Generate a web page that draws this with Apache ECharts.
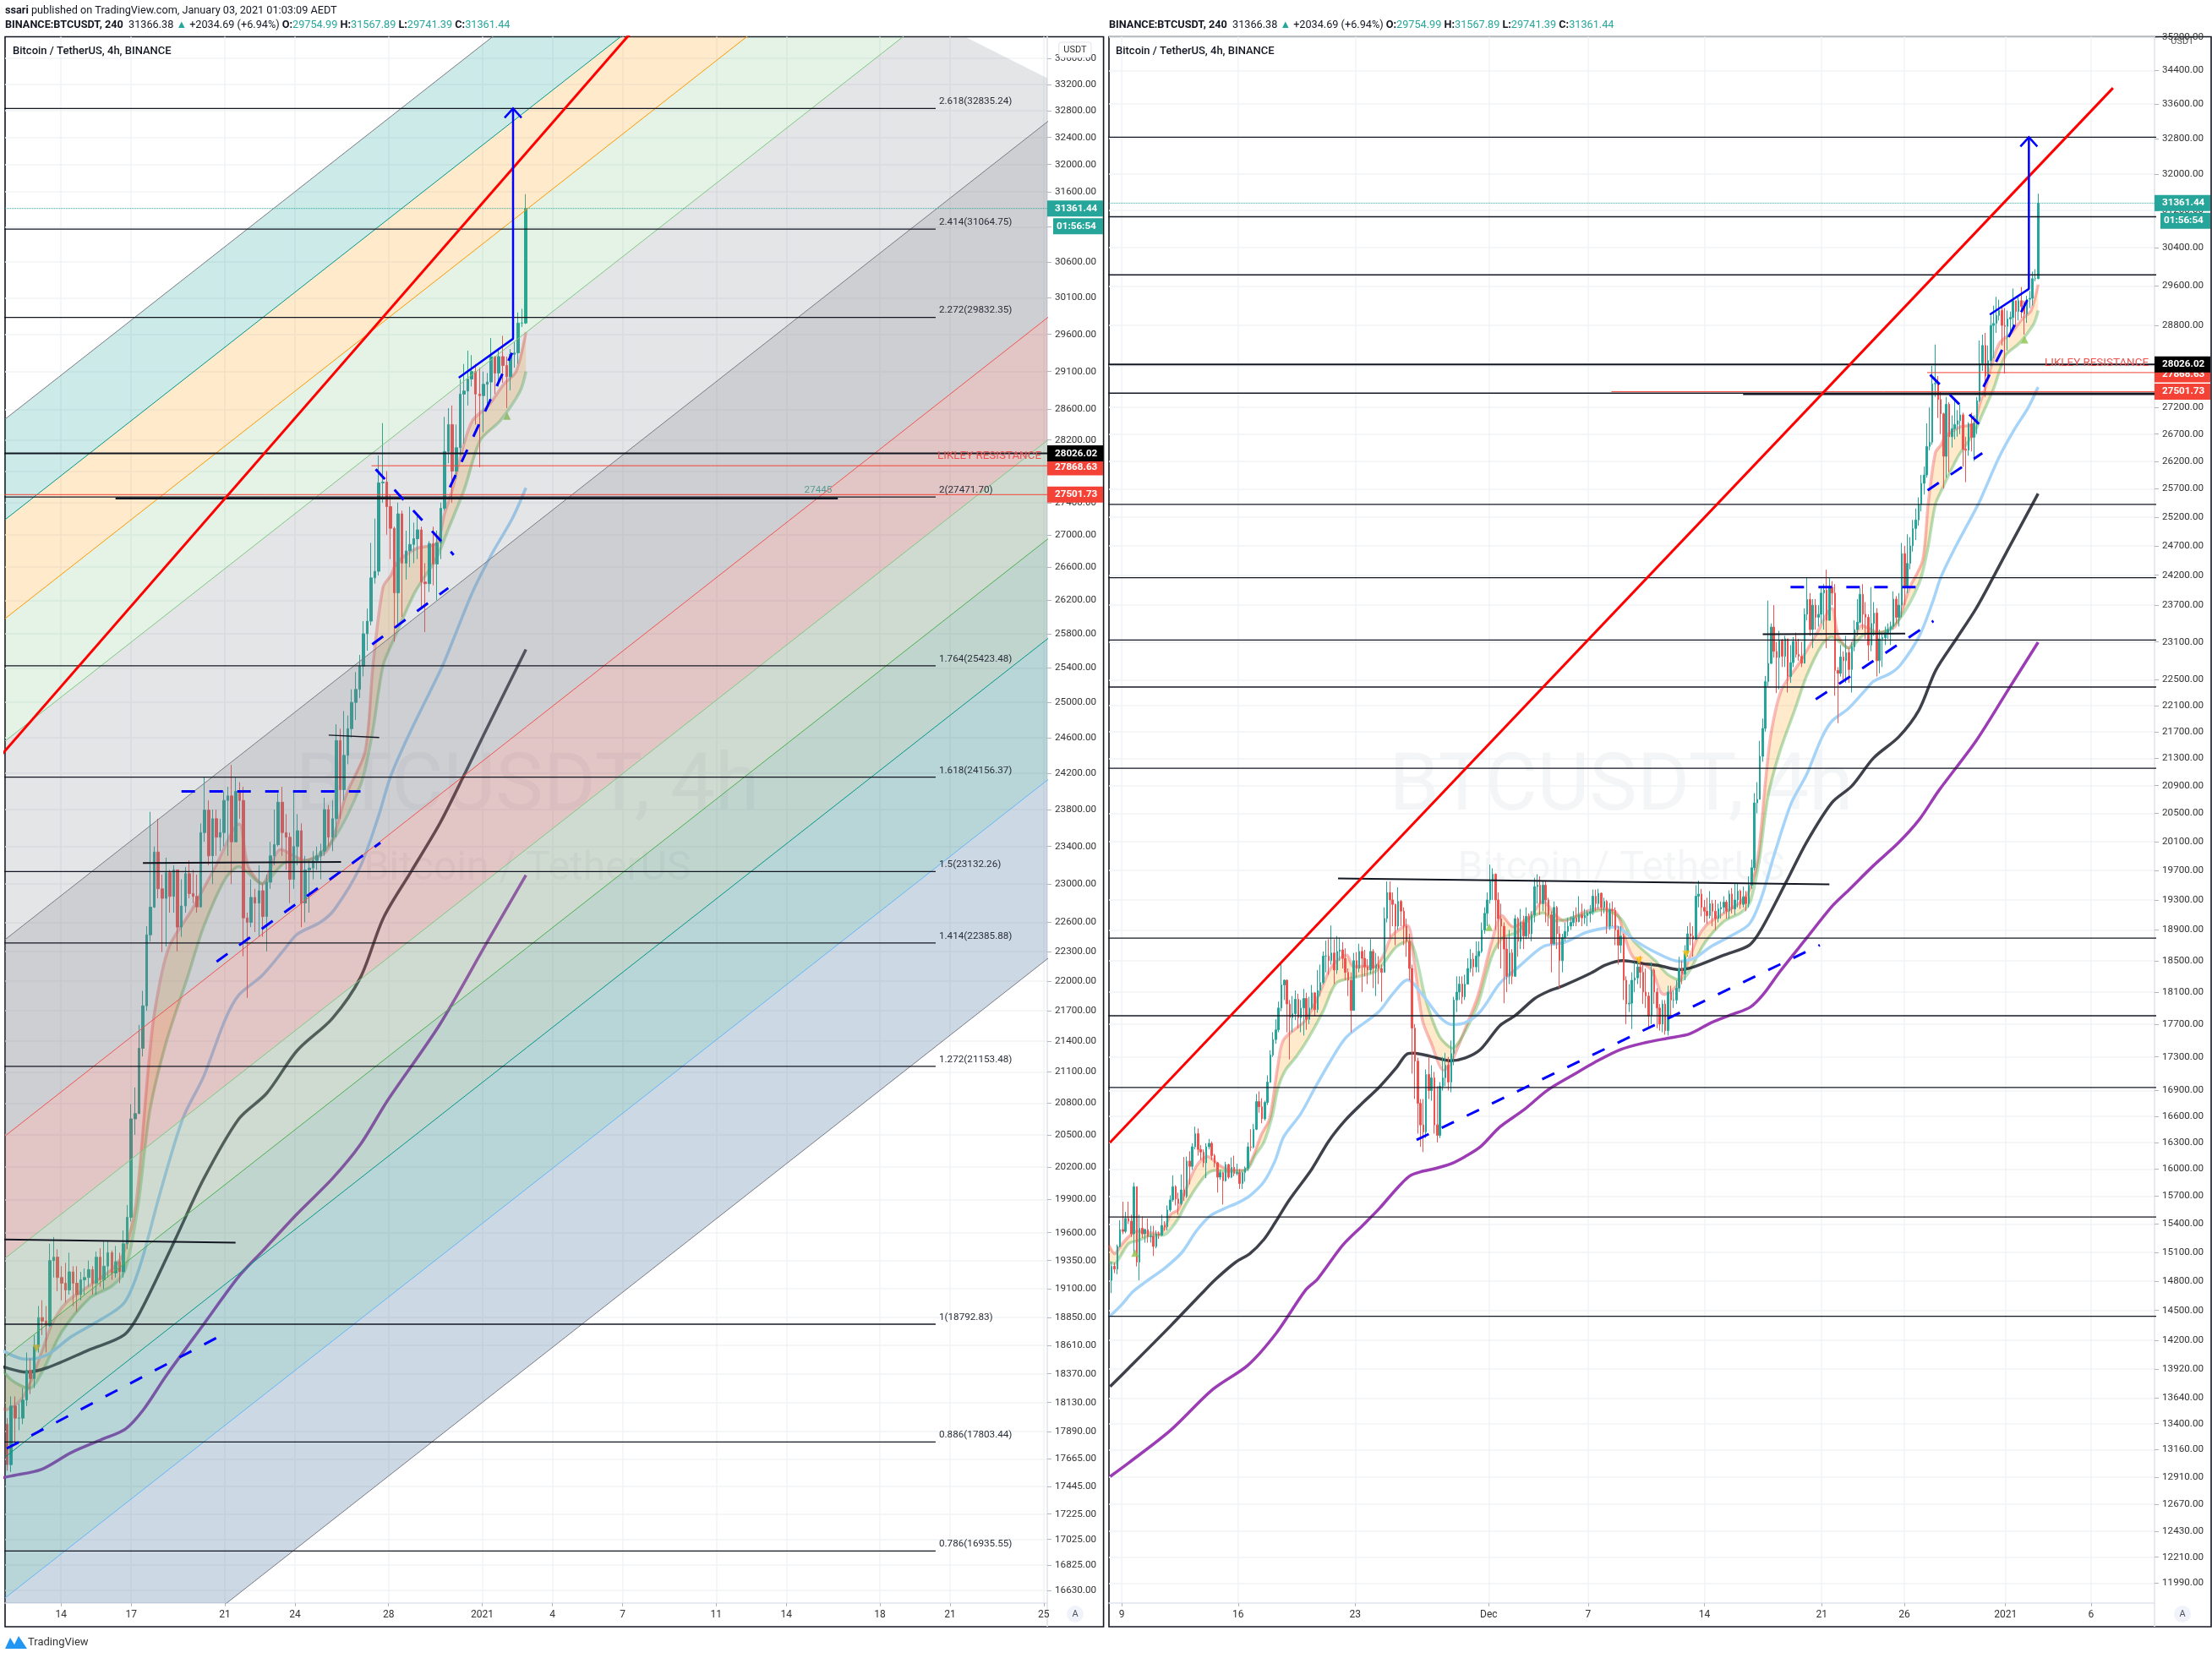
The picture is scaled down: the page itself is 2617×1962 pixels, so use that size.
<!DOCTYPE html>
<html>
<head>
    <meta charset="utf-8">
    <title>BTCUSDT 4h</title>
    <script src="https://cdn.jsdelivr.net/npm/echarts@6/dist/echarts.min.js"></script>
    <style>
        html, body { margin: 0; padding: 0; background: #fff; }
        #main { width: 2617px; height: 1962px; }
    </style>
</head>
<body>
    <div id="main"></div>
    <script type="text/javascript">
        // 4h bars, open of a bar is the close of the one before
        var firstOpen = 14806;
        var closes = [
            14952,14923,15160,15340,15320,15459,15430,15294,15805,14996,
            15354,15294,15340,15264,15270,15160,15294,15280,15384,15370,
            15550,15660,15805,15670,15620,15770,15700,16090,16030,16250,
            16400,16220,16190,16070,16250,16290,16150,16070,15910,15960,
            15870,16050,15910,16020,15950,15960,15840,15960,16010,16250,
            16245,16450,16770,16710,16570,16760,17000,17322,17511,17630,
            17900,18190,18250,17950,17780,17830,18010,17780,17900,18020,
            17760,17900,18090,17880,18120,18220,18560,18560,18500,18600,
            18380,18620,18640,18530,18350,18250,17870,18500,18400,18620,
            18530,18420,18380,18620,18400,18450,18400,18350,19052,19400,
            19300,19240,18950,19280,19150,18950,18750,18400,17650,17250,
            16750,16500,16420,17090,16900,17050,16500,16380,16950,17050,
            17200,17000,17340,18000,18100,18200,18040,18200,18400,18520,
            18420,18560,18620,18900,19120,19300,19550,19650,19300,19050,
            18950,18650,18300,18600,18300,19050,18750,19000,18820,19080,
            18850,19100,19480,19500,19250,19500,19300,19100,18720,19200,
            18850,18500,18800,18880,18950,19000,19060,19010,19100,19060,
            19090,19120,19140,19350,19250,19390,19200,19280,18950,19170,
            19160,18900,18700,18820,18250,17950,17960,18250,18280,18420,
            18350,18100,18050,17800,18380,18100,17900,17700,17950,17620,
            18100,18000,18000,18150,18400,18330,18600,18850,18820,18780,
            19350,19380,19200,19150,19090,19250,19150,19050,19180,19200,
            19270,19150,19380,19180,19300,19420,19240,19340,19250,19500,
            19738,20650,20700,21330,21750,22470,22757,23341,22950,22850,
            23120,22870,23150,22550,22770,23110,22900,22870,22760,23550,
            23794,23300,23700,23500,23550,23900,23950,23450,24000,23900,
            22646,22600,22860,22800,22930,22660,23020,23300,23420,23880,
            23550,23500,23050,23400,23570,22800,23150,23170,23250,23300,
            23350,23800,23500,23700,24566,24018,24400,24700,25000,25150,
            25420,25800,25950,26470,26550,27650,27660,27350,27080,26290,
            27260,26650,26800,26880,26950,27060,26420,26400,26890,26640,
            26900,27330,28050,28400,27800,28100,28800,28840,29000,29100,
            28800,28780,28930,28960,29300,29080,29300,29180,29030,29330,
            29350,29754,29754.99,31361.44
        ];
        var highs = [
            15000,14990,15180,15440,15640,15530,15640,15500,15850,15805,
            15500,15480,15350,15459,15380,15380,15330,15320,15500,15430,
            15600,15710,15930,15820,15740,15940,16135,16140,16200,16290,
            16480,16460,16270,16220,16290,16340,16310,16170,16080,15990,
            15970,16080,16060,16130,16150,16060,16000,15970,16030,16300,
            16450,16510,16860,16890,16810,16780,17080,17380,17600,17760,
            17980,18464,18260,18260,18000,18050,18120,18080,18000,18140,
            18090,18040,18190,18100,18380,18450,18620,18760,18780,18960,
            18780,18820,18800,18740,18660,18400,18350,18600,18610,18720,
            18680,18640,18520,18780,18650,18600,18560,18450,19200,19550,
            19550,19400,19250,19470,19300,19200,19050,18850,18450,17700,
            17290,16800,16800,17150,17300,17200,17120,16950,17000,17300,
            17350,17300,17500,18040,18300,18300,18300,18320,18530,18650,
            18600,18750,18750,19000,19200,19400,19780,19730,19660,19400,
            19250,19000,18800,18900,18650,19100,19070,19180,19090,19200,
            19120,19150,19600,19650,19620,19560,19550,19330,19150,19280,
            19220,18950,18850,19000,19060,19080,19150,19200,19350,19250,
            19180,19160,19230,19440,19440,19450,19400,19330,19300,19260,
            19280,19200,18950,18950,18850,18300,18200,18350,18480,18530,
            18560,18450,18400,18100,18480,18400,18150,17950,18000,18000,
            18180,18180,18120,18250,18550,18500,18700,18950,19000,18950,
            19500,19560,19450,19300,19330,19420,19300,19300,19250,19280,
            19350,19300,19430,19460,19520,19530,19440,19480,19420,19620,
            19850,20790,20950,21561,21900,22560,23775,23400,23700,23100,
            23280,23150,23200,23150,23050,23180,23250,23150,23100,23650,
            24160,23900,23800,23800,23700,24000,24050,24293,24150,24100,
            24050,22700,23050,22950,23200,23000,23100,23450,23800,23980,
            24050,23750,23550,24000,23750,23650,23300,23250,23350,23400,
            23430,23930,23850,23900,24750,24700,24900,24850,25150,25350,
            25550,25950,26100,26900,27200,28000,28419,27800,27500,27100,
            27400,27300,27050,27350,27150,27260,27100,26650,26920,27100,
            27050,27400,28500,28615,28650,28400,29000,29200,29380,29320,
            29200,29150,29100,29080,29550,29300,29400,29580,29300,29400,
            29500,29900,29950,31567.89
        ];
        var lows = [
            14675,14880,14870,15150,15290,15300,15400,15260,15084,14950,
            14806,15250,15200,15200,15200,15060,15140,15240,15270,15330,
            15330,15530,15640,15600,15500,15600,15650,15680,15830,15990,
            16220,16150,16100,16020,15900,16220,16100,16020,15740,15880,
            15610,15860,15890,15900,15920,15930,15780,15780,15860,15980,
            16200,16230,16440,16640,16520,16550,16730,16990,17300,17460,
            17600,17860,18000,17600,17270,17600,17750,17650,17600,17560,
            17630,17700,17880,17800,17840,18050,18200,18350,18320,18450,
            18200,18330,18500,18400,18250,18050,17600,17870,18280,18350,
            18100,18300,18200,18330,18150,18050,18200,17980,18350,19000,
            18800,18950,18700,18900,18950,18700,18550,18250,17100,16800,
            16400,16250,16190,16350,16800,16780,16400,16300,16350,16900,
            16950,16900,16880,17200,17850,18000,17950,18000,18200,18350,
            18300,18350,18350,18600,18850,18950,19250,19300,18900,18650,
            18400,17960,18100,18200,18200,18320,18550,18650,18650,18780,
            18800,18750,19000,19250,19100,19150,19000,18950,18350,18700,
            18650,18150,18350,18750,18820,18900,18950,18950,19000,18950,
            18980,18950,19000,19100,19150,19180,19080,19120,18850,18900,
            18950,18700,18450,18600,18000,17700,17850,17640,18100,18200,
            18150,17950,17900,17650,17700,17950,17650,17620,17600,17570,
            17560,17800,17900,17950,18100,18200,18250,18550,18700,18550,
            18770,19200,19080,19000,18980,19050,18950,18900,19000,19050,
            19120,19050,19050,19120,19100,19200,19180,19200,19150,19200,
            19450,19700,20500,20700,21250,21700,22400,22750,22850,22293,
            22350,22700,22700,22300,22450,22700,22850,22800,22700,22800,
            23450,23200,23000,23300,23350,23400,23300,23000,23500,23700,
            22250,21830,22550,22500,22450,22450,22300,22950,23200,23400,
            23300,23150,22800,22950,23200,22550,22600,22700,23050,23150,
            23050,23300,23400,23350,23500,23700,23900,24300,24600,24800,
            25050,25300,25600,25900,26400,26500,27400,27000,26700,25707,
            25900,26000,26450,26600,26650,26700,26100,25820,26300,26380,
            26200,26700,27300,27900,27400,27700,28000,28150,28650,28900,
            28400,27850,28300,28600,28700,28800,28900,28950,28615,28850,
            29150,29200,29700,29741.39
        ];

        // ribbon and moving averages, [time, price]
        var ribbonFast = [[8.63,15173],[8.97,15084],[9.3,15160],[9.8,15264],[10.3,15324],[10.98,15309],[11.65,15294],[12.31,15504],[12.73,15550],[13.15,15750],[13.82,16031],[14.49,16142],[15.16,16047],[15.66,16000],[16.67,15985],[17.17,16126],[17.67,16380],[18.18,16574],[18.68,17203],[19.02,17511],[20.34,17754],[21.11,18069],[21.88,18428],[22.77,18573],[23.16,18428],[24.44,18428],[24.95,18573],[25.47,18830],[26.36,18960],[26.75,18537],[27.26,17754],[27.77,17477],[28.54,17138],[29.06,17272],[29.82,17649],[30.59,18069],[31.36,18719],[32,19090],[32.65,18941],[33.67,19090],[34.44,19279],[35.21,19090],[35.72,19017],[36.75,19128],[37.77,19185],[38.8,19128],[39.31,18793],[39.82,18537],[40.85,18391],[41.62,18069],[42.39,18176],[43.21,18573],[43.61,18793],[44.21,18978],[45.21,19128],[46.2,19278],[46.7,19431],[47.2,19855],[47.7,21058],[48,21689],[48.6,22335],[49.6,22734],[50.6,23185],[51.6,23644],[52,23185],[52.6,23003],[53.4,23367],[54.4,23254],[55.4,23367],[56.2,23971],[57,24447],[57.33,25420],[57.76,26354],[58.1,26502],[58.35,26653],[59.2,26831],[60.05,26893],[60.39,27260],[60.73,27570],[61.15,28071],[61.58,28451],[62.26,28645],[62.94,28936],[63.45,29100],[63.87,29631]];
        var ribbonSlow = [[8.63,14996],[8.97,14981],[9.3,15055],[9.8,15190],[10.47,15229],[11.14,15279],[11.81,15279],[12.65,15429],[13.15,15596],[13.82,15797],[14.49,15953],[14.99,15985],[15.83,15970],[16.84,15995],[17.34,16158],[17.84,16300],[18.34,16606],[18.68,16933],[19.1,17135],[19.77,17305],[20.44,17511],[21.36,17859],[22.13,18212],[23.16,18283],[24.44,18355],[24.95,18464],[25.72,18682],[26.44,18756],[27.52,17963],[28.29,17545],[29.06,17408],[29.82,17615],[30.59,17963],[31.36,18537],[32,18793],[32.9,18867],[33.67,19052],[34.44,19128],[35.21,19017],[35.98,19052],[37,19110],[38.03,19165],[39.06,19052],[39.82,18756],[41.1,18500],[41.87,18320],[42.64,18249],[43.21,18391],[44.01,18720],[45.21,19017],[46.2,19128],[46.76,19278],[47.3,19855],[47.8,20730],[48.5,21392],[49.4,22031],[50.1,22556],[51,23048],[51.6,23185],[52.6,23003],[53.6,23231],[54.6,23254],[55.6,23459],[56.8,24067],[57.3,24638],[57.76,25420],[58.18,25707],[59.12,26293],[60.05,26712],[60.56,27075],[61.24,27570],[61.92,28197],[62.77,28451],[63.62,28838],[63.87,29100]];
        var blueAverage = [[8.7,14443],[9.4,14560],[10.05,14690],[10.81,14791],[11.98,14938],[12.98,15100],[13.82,15324],[14.66,15489],[15.5,15566],[16.34,15633],[17,15705],[17.84,15859],[18.51,16095],[19.02,16364],[20.02,16625],[20.86,16925],[21.86,17272],[22.77,17545],[24.7,17859],[25.47,18069],[26.39,18256],[27.26,18069],[28.29,17789],[29.06,17695],[29.82,17718],[30.72,17859],[31.88,18212],[33.03,18428],[34.44,18682],[35.72,18738],[37,18867],[38.03,18923],[38.8,18941],[39.82,18774],[41.1,18610],[42.52,18492],[43.41,18530],[44.41,18682],[45.51,18811],[46.7,18978],[47.4,19317],[48.2,19933],[49.2,20650],[50.1,21058],[51,21604],[51.6,21858],[52.59,22053],[53.59,22335],[54.09,22476],[55.09,22601],[55.69,22734],[56.79,23185],[57.58,23737],[58.08,24160],[58.88,24638],[60.3,25420],[60.73,25707],[61.58,26293],[62.43,26773],[63.28,27197],[63.87,27588]];
        var blackAverage = [[8.7,13751],[9.8,13928],[12.3,14345],[14.16,14675],[14.99,14820],[16.17,14996],[17,15084],[17.84,15234],[18.51,15414],[19.35,15659],[20.69,16000],[21.7,16316],[22.7,16558],[23.71,16755],[24.71,16942],[25.72,17171],[26.39,17340],[26.75,17346],[27.77,17306],[28.93,17254],[29.82,17288],[30.72,17391],[31.88,17684],[32.77,17804],[33.93,18017],[34.7,18105],[35.59,18176],[37.26,18338],[38.16,18445],[39.18,18500],[40.34,18464],[41.36,18436],[42.52,18384],[43.41,18421],[45.2,18573],[46.7,18701],[47.4,18904],[48.9,19546],[50.1,20090],[51.6,20650],[52.79,20894],[54.09,21307],[55.59,21623],[56.79,22031],[57.78,22646],[58.98,23139],[60.18,23644],[61.28,24207],[62.08,24638],[63.87,25615]];
        var purpleAverage = [[8.7,12915],[9.8,13038],[12.3,13339],[14.8,13723],[16.9,13958],[18.6,14277],[20.3,14702],[21.03,14820],[22.53,15174],[23.72,15385],[24.7,15566],[25.72,15780],[26.49,15921],[27.13,15968],[28.03,16006],[28.93,16056],[29.82,16142],[30.72,16252],[31.88,16478],[33.29,16673],[34.7,16903],[36.24,17087],[37.52,17237],[39.06,17391],[40.59,17477],[41.87,17528],[43.16,17581],[44.44,17718],[45.72,17823],[46.75,17910],[47.52,18069],[48.5,18355],[50.1,18793],[51.6,19210],[52.6,19431],[54.09,19769],[55.59,20090],[56.79,20407],[57.98,20833],[60.18,21561],[62.18,22381],[63.87,23095]];

        // horizontal levels
        var fibRatios = ['2.618','2.414','2.272','2','1.764','1.618','1.5','1.414','1.272','1','0.886','0.786'];
        var fibPrices = [32835.24,31064.75,29832.35,27471.70,25423.48,24156.37,23132.26,22385.88,21153.48,18792.83,17803.44,16935.55];
        var lowerLevels = [15474,14441];
        var levelStart = 0, levelEnd = 81.38;
        var lastPrice = 31361.44, blackLevel = 28026.02, resistance = 27868.63, support = 27501.73;

        // fib channel, edges run from channelLeft to channelRight
        var channelLeft = [[41.61,28471],[41.61,27187],[41.61,25980],[41.61,24560],[41.61,22421],[41.61,20489],[41.61,19370],[41.61,18510],[41.61,17681],[41.61,16574],[41.61,15266]];
        var channelRight = [[87.6,41944],[87.6,40053],[87.6,38276],[81.02,34230],[87.6,33034],[87.6,30192],[87.6,28540],[87.6,27273],[87.6,26054],[87.6,24420],[87.6,22496]];
        var channelEdgeColors = ['#787b86','#009688','#ff9800','#81c784','#787b86','#ef5350','#81c784','#4caf50','#009688','#64b5f6','#787b86'];
        var channelFills = ['rgba(0,150,136,0.2)','rgba(255,152,0,0.2)','rgba(76,175,80,0.15)','rgba(120,123,134,0.2)','rgba(120,123,134,0.36)','rgba(172,89,89,0.35)','rgba(118,152,124,0.35)','rgba(78,135,118,0.35)','rgba(52,135,141,0.35)','rgba(109,143,175,0.35)'];

        // hand drawn lines
        var redTrend = [[8.68,16297],[68.32,33980]];
        var blueDashed = [
            [[26.92,16328],[50.89,18701]],
            [[49.15,24000],[56.8,24000]],
            [[50.65,22195],[57.65,23440]],
            [[57.3,25675],[60.55,26347]],
            [[57.45,27825],[60.78,26751]],
            [[60.62,27594],[63.28,29350]]
        ];
        var blueArrow = [[61,29018],[63.32,29541],[63.32,32835]];
        var blackTrends = [
            [[22.25,19590],[51.46,19510]],
            [[47.5,23224],[55.97,23235]]
        ];
        var flatBlack = [[46.33,27455],[77.2,27455]];
        var shortBlack = [[55.44,24627],[57.6,24600]];
        var upSignals = [[63.06,28513],[10.18,15091],[31.23,18937]];
        var downSignals = [[40.14,18500],[42.95,18584]];

        // axes
        var leftPrices = [33600,33200,32800,32400,32000,31600,31100,30600,30100,29600,29100,28600,28200,27800,27400,27000,26600,26200,25800,25400,25000,24600,24200,23800,23400,23000,22600,22300,22000,21700,21400,21100,20800,20500,20200,19900,19600,19350,19100,18850,18610,18370,18130,17890,17665,17445,17225,17025,16825,16630];
        var rightPrices = [35200,34400,33600,32800,32000,31200,30400,29600,28800,28000,27200,26700,26200,25700,25200,24700,24200,23700,23100,22500,22100,21700,21300,20900,20500,20100,19700,19300,18900,18500,18100,17700,17300,16900,16600,16300,16000,15700,15400,15100,14800,14500,14200,13920,13640,13400,13160,12910,12670,12430,12210,11990];
        var leftDays = [44,47,51,54,58,62,65,68,72,75,79,82,86];
        var leftDayNames = ['14','17','21','24','28','2021','4','7','11','14','18','21','25'];
        var rightDays = [9.39,16.31,23.27,31.21,37.11,44.03,51,55.92,61.93,67.02];
        var rightDayNames = ['9','16','23','Dec','7','14','21','26','2021','6'];

        var barStep = 0.1654, lastBarTime = 63.87;
        var font = 'Roboto, "Noto Sans", sans-serif';
        var upColor = '#26a69a', downColor = '#ef5350', ink = '#131722';

        var bars = closes.map(function (c, i) {
            var open = i === 0 ? firstOpen : closes[i - 1];
            var t = lastBarTime - (closes.length - 1 - i) * barStep;
            return [t, open, c, lows[i], highs[i]];
        });

        function lineSeries(g, name, pts, color, width, dash, z) {
            return {
                name: name, type: 'line', xAxisIndex: g, yAxisIndex: g, data: pts,
                showSymbol: false, silent: true, animation: false, z: z,
                lineStyle: { color: color, width: width, type: dash || 'solid' }
            };
        }

        function averageSeries(g, name, pts, color, width) {
            var s = lineSeries(g, name, pts, color, width, null, 2);
            s.smooth = 0.3;
            return s;
        }

        function panelSeries(g) {
            var list = [];
            list.push({
                name: 'BTCUSDT', type: 'candlestick', xAxisIndex: g, yAxisIndex: g, data: bars,
                encode: { x: 0, y: [1, 2, 3, 4] }, barWidth: g === 0 ? 3 : 2, animation: false, silent: true, z: 2,
                itemStyle: { color: upColor, color0: downColor, borderColor: upColor, borderColor0: downColor, borderWidth: 1 }
            });
            // fill between the two ribbon lines
            list.push({
                type: 'custom', xAxisIndex: g, yAxisIndex: g, data: [[50, 20000]], clip: true, silent: true, animation: false, z: 2,
                renderItem: function (params, api) {
                    var pts = ribbonFast.concat(ribbonSlow.slice().reverse()).map(function (p) { return api.coord(p); });
                    return { type: 'polygon', shape: { points: pts }, style: { fill: 'rgba(255,152,0,0.2)' } };
                }
            });
            list.push(averageSeries(g, 'fast', ribbonFast, 'rgba(239,83,80,0.4)', 3.5));
            list.push(averageSeries(g, 'slow', ribbonSlow, 'rgba(76,175,80,0.4)', 3.5));
            list.push(averageSeries(g, 'blue', blueAverage, '#a5d4f8', 3.5));
            list.push(averageSeries(g, 'black', blackAverage, 'rgba(19,23,34,0.82)', 3.5));
            list.push(averageSeries(g, 'purple', purpleAverage, '#9c3cb4', 3.5));
            list.push({ type: 'scatter', xAxisIndex: g, yAxisIndex: g, data: upSignals, symbol: 'triangle', symbolSize: 9, silent: true, animation: false, z: 2, itemStyle: { color: '#8bc34a' } });
            list.push({ type: 'scatter', xAxisIndex: g, yAxisIndex: g, data: downSignals, symbol: 'triangle', symbolRotate: 180, symbolSize: 9, silent: true, animation: false, z: 2, itemStyle: { color: '#ffc107' } });

            if (g === 0) {
                list.push({
                    type: 'custom', xAxisIndex: 0, yAxisIndex: 0, data: channelFills.map(function () { return [50, 20000]; }), clip: true, silent: true, animation: false, z: 3,
                    renderItem: function (params, api) {
                        var i = params.dataIndex;
                        return {
                            type: 'polygon',
                            shape: { points: [channelLeft[i], channelRight[i], channelRight[i + 1], channelLeft[i + 1]].map(function (p) { return api.coord(p); }) },
                            style: { fill: channelFills[i] }
                        };
                    }
                });
                channelLeft.forEach(function (p, i) {
                    list.push(lineSeries(0, 'channel' + i, [p, channelRight[i]], channelEdgeColors[i], 1, null, 3));
                });
                list.push(lineSeries(0, 'short', shortBlack, ink, 1.3, null, 4));
            }

            fibPrices.concat(lowerLevels).forEach(function (p, i) {
                list.push(lineSeries(g, 'level' + i, [[levelStart, p], [levelEnd, p]], ink, 1.3, null, 4));
            });
            list.push(lineSeries(g, 'lastPrice', [[0, lastPrice], [100, lastPrice]], upColor, 1, 'dotted', 4));
            list.push(lineSeries(g, 'blackLevel', [[0, blackLevel], [100, blackLevel]], ink, 2, null, 4));
            list.push(lineSeries(g, 'resistance', [[57.27, resistance], [100, resistance]], '#f44336', 1, null, 4));
            list.push(lineSeries(g, 'support', [[38.5, support], [100, support]], '#f44336', 1, null, 4));
            list.push(lineSeries(g, 'flatBlack', flatBlack, ink, 2.5, null, 4));
            blackTrends.forEach(function (t, i) { list.push(lineSeries(g, 'trend' + i, t, ink, 2, null, 4)); });
            list.push(lineSeries(g, 'redTrend', redTrend, '#ff0000', 3, null, 5));
            blueDashed.forEach(function (d, i) { list.push(lineSeries(g, 'dash' + i, d, '#0000ff', 3, [16, 17], 5)); });
            list.push(lineSeries(g, 'arrow', blueArrow, '#0000ff', 2.5, null, 5));

            // arrow head and the texts that hang on a price
            list.push({
                type: 'custom', xAxisIndex: g, yAxisIndex: g, data: [[63.32, 32835]], clip: true, silent: true, animation: false, z: 5,
                renderItem: function (params, api) {
                    var tip = api.coord(blueArrow[2]);
                    return { type: 'polyline', shape: { points: [[tip[0] - 10, tip[1] + 11], tip, [tip[0] + 10, tip[1] + 11]] }, style: { stroke: '#0000ff', lineWidth: 2.5, fill: null } };
                }
            });
            list.push({
                type: 'custom', xAxisIndex: g, yAxisIndex: g, data: fibPrices.map(function (p) { return [levelEnd, p]; }), clip: true, silent: true, animation: false, z: 5,
                renderItem: function (params, api) {
                    var i = params.dataIndex, pt = api.coord([levelEnd, fibPrices[i]]);
                    return { type: 'text', x: pt[0] + 4, y: pt[1] - 8, style: { text: fibRatios[i] + '(' + fibPrices[i].toFixed(2) + ')', fill: '#2a2e39', font: '11.7px ' + font, textAlign: 'left', textVerticalAlign: 'middle' } };
                }
            });
            list.push({
                type: 'custom', xAxisIndex: g, yAxisIndex: g, data: [[76.36, flatBlack[0][1]]], clip: true, silent: true, animation: false, z: 5,
                renderItem: function (params, api) {
                    var pt = api.coord([76.36, flatBlack[0][1]]);
                    return { type: 'text', x: pt[0], y: pt[1] - 10, style: { text: '27445', fill: '#5a9a92', font: '11.7px ' + font, textAlign: 'center', textVerticalAlign: 'middle' } };
                }
            });
            list.push({
                type: 'custom', xAxisIndex: g, yAxisIndex: g, data: [[60, resistance]], silent: true, animation: false, z: 5,
                renderItem: function (params, api) {
                    var pt = api.coord([60, resistance]);
                    return { type: 'text', x: params.coordSys.x + params.coordSys.width - 7, y: pt[1] - 11, style: { text: 'LIKLEY RESISTANCE', fill: '#ef5350', font: '13.4px ' + font, textAlign: 'right', textVerticalAlign: 'middle' } };
                }
            });

            // price tags on the scale
            var tags = [[resistance, '#f44336', 2], [blackLevel, '#000000', 0], [support, '#f44336', 0], [lastPrice, upColor, 0]];
            list.push({
                type: 'custom', xAxisIndex: g, yAxisIndex: g, data: tags.map(function (t) { return [60, t[0]]; }), silent: true, animation: false, z: 10,
                renderItem: function (params, api) {
                    var t = tags[params.dataIndex], y = api.coord([60, t[0]])[1] + t[2];
                    var x = params.coordSys.x + params.coordSys.width;
                    return {
                        type: 'group',
                        children: [
                            { type: 'rect', shape: { x: x, y: y - 9.5, width: 66, height: 19 }, style: { fill: t[1] } },
                            { type: 'text', x: x + 9, y: y, style: { text: t[0].toFixed(2), fill: '#fff', font: 'bold 11.7px ' + font, textAlign: 'left', textVerticalAlign: 'middle' } }
                        ]
                    };
                }
            });
            list.push({
                type: 'custom', xAxisIndex: g, yAxisIndex: g, data: [[60, lastPrice]], silent: true, animation: false, z: 10,
                renderItem: function (params, api) {
                    var y = api.coord([60, lastPrice])[1] + 21;
                    var x = params.coordSys.x + params.coordSys.width;
                    return {
                        type: 'group',
                        children: [
                            { type: 'rect', shape: { x: x + 7, y: y - 9.5, width: 59, height: 19 }, style: { fill: upColor } },
                            { type: 'text', x: x + 11, y: y, style: { text: '01:56:54', fill: '#fff', font: 'bold 11.7px ' + font, textAlign: 'left', textVerticalAlign: 'middle' } }
                        ]
                    };
                }
            });
            return list;
        }

        function priceAxis(g, ticks, min, max) {
            return {
                type: 'log', logBase: 10, gridIndex: g, position: 'right', min: min, max: max,
                axisLine: { show: true, lineStyle: { color: '#e0e3eb', width: 1.5 } },
                axisTick: { show: true, length: 5, customValues: ticks, lineStyle: { color: '#b2b5be' } },
                axisLabel: {
                    customValues: ticks, margin: 9, color: '#333', fontFamily: font, fontSize: 11.7, hideOverlap: false,
                    formatter: function (v) { return Number(v).toFixed(2); }
                },
                splitLine: { show: true, lineStyle: { color: '#f0f3f6', width: 1.5 } },
                minorTick: { show: false }, minorSplitLine: { show: false }
            };
        }

        function timeAxis(g, days, names, min, max) {
            return {
                type: 'value', gridIndex: g, min: min, max: max,
                axisLine: { show: true, onZero: false, lineStyle: { color: '#e0e3eb', width: 1.5 } },
                axisTick: { show: true, length: 4, customValues: days, lineStyle: { color: '#b2b5be' } },
                axisLabel: {
                    customValues: days, margin: 8, color: '#333', fontFamily: font, fontSize: 12, hideOverlap: false,
                    formatter: function (v) { return names[days.indexOf(v)]; }
                },
                splitLine: { show: true, lineStyle: { color: '#f0f3f6', width: 1.5 } }
            };
        }

        var tickerLine = '{b|BINANCE:BTCUSDT, 240}  31366.38 {t|▲} +2034.69 (+6.94%) {b|O:}{t|29754.99} {b|H:}{t|31567.89} {b|L:}{t|29741.39} {b|C:}{t|31361.44}';
        var richText = { b: { fontWeight: 'bold', color: ink, fontFamily: font, fontSize: 12.7 }, t: { color: upColor, fontFamily: font, fontSize: 12.7 } };
        function headText(text, left, top, bold) {
            return { text: text, left: left, top: top, padding: 0, textStyle: { color: ink, fontFamily: font, fontSize: bold ? 13 : 12.7, fontWeight: bold ? 500 : 'normal', rich: richText } };
        }

        function frame(x, w, plotRight) {
            return [
                { type: 'rect', shape: { x: x, y: 43.5, width: w, height: 1881.5 }, style: { fill: null, stroke: ink, lineWidth: 1.6 } },
                { type: 'line', shape: { x1: plotRight, y1: 1897, x2: plotRight, y2: 1925 }, style: { stroke: '#e0e3eb', lineWidth: 1.5 } }
            ];
        }
        function watermark(cx) {
            return [
                { type: 'text', z: -1, x: cx, y: 934, style: { text: 'BTCUSDT, 4h', fill: 'rgba(120,123,134,0.08)', font: '95px ' + font, textAlign: 'center', textVerticalAlign: 'middle' } },
                { type: 'text', z: -1, x: cx, y: 1029, style: { text: 'Bitcoin / TetherUS', fill: 'rgba(120,123,134,0.08)', font: '48px ' + font, textAlign: 'center', textVerticalAlign: 'middle' } }
            ];
        }
        function autoBadge(cx) {
            return [
                { type: 'circle', shape: { cx: cx, cy: 1910, r: 10 }, style: { fill: '#f0f3fa' } },
                { type: 'text', x: cx, y: 1910, style: { text: 'A', fill: '#50535e', font: '11px ' + font, textAlign: 'center', textVerticalAlign: 'middle' } }
            ];
        }

        var graphics = [].concat(
            watermark(624), watermark(1918),
            frame(6, 1299.6, 1239), frame(1312, 1304, 2549),
            autoBadge(1272), autoBadge(2582),
            [
                { type: 'rect', shape: { x: 1252.7, y: 50, width: 38.3, height: 18, r: 3 }, style: { fill: '#fff', stroke: '#e0e3eb' }, z: 20 },
                { type: 'text', z: 21, x: 1272, y: 59, style: { text: 'USDT', fill: '#333', font: '11px ' + font, textAlign: 'center', textVerticalAlign: 'middle' } },
                { type: 'text', z: 21, x: 2582, y: 49, style: { text: 'USDT', fill: '#555', font: '11px ' + font, textAlign: 'center', textVerticalAlign: 'middle' } },
                { type: 'polygon', shape: { points: [[6, 1951], [12, 1938], [17, 1946], [22, 1936], [32, 1951]] }, style: { fill: '#2196f3' } },
                { type: 'text', x: 33, y: 1944, style: { text: 'TradingView', fill: '#333', font: '13px ' + font, textAlign: 'left', textVerticalAlign: 'middle' } }
            ]
        );

        var myChart = echarts.init(document.getElementById('main'));
        var option = {
            animation: false,
            backgroundColor: '#ffffff',
            title: [
                headText('{b|ssari} published on TradingView.com, January 03, 2021 01:03:09 AEDT', 6, 6),
                headText(tickerLine, 6, 23),
                headText(tickerLine, 1312, 23),
                headText('Bitcoin / TetherUS, 4h, BINANCE', 15, 54, true),
                headText('Bitcoin / TetherUS, 4h, BINANCE', 1320, 54, true)
            ],
            grid: [
                { left: 6, top: 43.5, width: 1233, height: 1853.5 },
                { left: 1312, top: 43.5, width: 1237, height: 1853.5 }
            ],
            xAxis: [
                timeAxis(0, leftDays, leftDayNames, 41.61, 86.15),
                timeAxis(1, rightDays, rightDayNames, 8.63, 70.79)
            ],
            yAxis: [
                priceAxis(0, leftPrices, 16535, 33933),
                priceAxis(1, rightPrices, 11825, 35215)
            ],
            graphic: { elements: graphics },
            series: panelSeries(0).concat(panelSeries(1))
        };
        myChart.setOption(option);
    </script>
</body>
</html>
